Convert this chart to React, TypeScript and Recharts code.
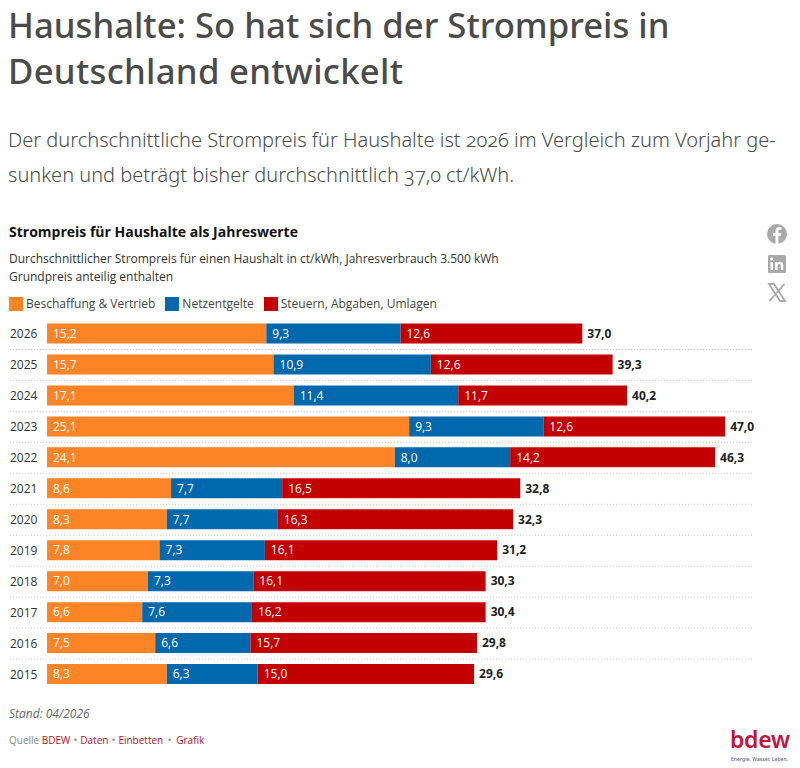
import { BarChart, Bar, XAxis, YAxis, LabelList, Legend } from 'recharts'

const years = ['2026', '2025', '2024', '2023', '2022', '2021', '2020', '2019', '2018', '2017', '2016', '2015']
const procurement = [15.2, 15.7, 17.1, 25.1, 24.1, 8.6, 8.3, 7.8, 7.0, 6.6, 7.5, 8.3]
const gridFees = [9.3, 10.9, 11.4, 9.3, 8.0, 7.7, 7.7, 7.3, 7.3, 7.6, 6.6, 6.3]
const taxes = [12.6, 12.6, 11.7, 12.6, 14.2, 16.5, 16.3, 16.1, 16.1, 16.2, 15.7, 15.0]
const totals = [37.0, 39.3, 40.2, 47.0, 46.3, 32.8, 32.3, 31.2, 30.3, 30.4, 29.8, 29.6]

const data = years.map((year, i) => ({
  year,
  procurement: procurement[i],
  gridFees: gridFees[i],
  taxes: taxes[i],
  total: totals[i],
}))

const ORANGE = '#ff8426'
const BLUE = '#0068ad'
const RED = '#c30000'
const CHART_FONT = '"Open Sans", sans-serif'
const HEAD_FONT = '"Noto Sans", sans-serif'

const comma = (v: number) => v.toFixed(1).replace('.', ',')

function YearTick({ y, payload, index }: any) {
  return (
    <g>
      <text x={10} y={y} dy={4.5} fontSize={12} fill="#333" fontFamily={CHART_FONT}>
        {payload.value}
      </text>
      {index < years.length - 1 && (
        <line x1={10} x2={754} y1={y + 15.5} y2={y + 15.5} stroke="#ccc" strokeDasharray="1 2" />
      )}
    </g>
  )
}

function LegendRow({ payload }: any) {
  return (
    <div style={{ display: 'flex', fontFamily: CHART_FONT, fontSize: 12, color: '#444' }}>
      {payload.map((p: any) => (
        <div key={p.value} style={{ display: 'flex', alignItems: 'center', marginRight: 10 }}>
          <span style={{ width: 14, height: 14, background: p.color, marginRight: 3 }} />
          {p.value}
        </div>
      ))}
    </div>
  )
}

const abs = (left: number, top: number, style: object = {}) => ({
  position: 'absolute' as const,
  left,
  top,
  whiteSpace: 'nowrap' as const,
  ...style,
})

const links = { color: '#b5121b' }

export default function App() {
  const whiteLabel = { fill: '#fff', fontSize: 12, fontFamily: CHART_FONT }
  return (
    <div style={{ position: 'relative', width: 800, height: 768, margin: '-8px 0 0 -8px', overflow: 'hidden', background: '#fff' }}>
      <div style={abs(8, 2, { fontFamily: HEAD_FONT, fontWeight: 500, fontSize: 34.7, lineHeight: '46px', color: '#4b4b4b' })}>
        Haushalte: So hat sich der Strompreis in
        <br />
        <span style={{ letterSpacing: 0.3 }}>Deutschland entwickelt</span>
      </div>
      <div style={abs(8, 122, { fontFamily: HEAD_FONT, fontWeight: 300, fontSize: 20, lineHeight: '35px', color: '#4b4b4b', fontVariantNumeric: 'oldstyle-nums' })}>
        Der durchschnittliche Strompreis für Haushalte ist 2026 im Vergleich zum Vorjahr ge-
        <br />
        sunken und beträgt bisher durchschnittlich 37,0 ct/kWh.
      </div>
      <div style={abs(9, 222, { fontFamily: CHART_FONT, fontWeight: 700, fontSize: 14, color: '#111' })}>
        Strompreis für Haushalte als Jahreswerte
      </div>

      <BarChart
        width={800}
        height={768}
        data={data}
        layout="vertical"
        barSize={20}
        margin={{ top: 318.5, right: 46, bottom: 61, left: 9 }}
        style={{ position: 'absolute', left: 0, top: 0 }}
      >
        <XAxis type="number" domain={[0, 49]} hide />
        <YAxis type="category" dataKey="year" width={38} axisLine={false} tickLine={false} tick={<YearTick />} interval={0} />
        <Legend
          content={<LegendRow />}
          wrapperStyle={{ position: 'absolute', left: 9, top: 295, width: 600, bottom: 'auto' }}
        />
        <Bar dataKey="procurement" name="Beschaffung & Vertrieb" stackId="a" fill={ORANGE} isAnimationActive={false}>
          <LabelList dataKey="procurement" position="insideLeft" offset={6} formatter={comma} style={whiteLabel} />
        </Bar>
        <Bar dataKey="gridFees" name="Netzentgelte" stackId="a" fill={BLUE} isAnimationActive={false}>
          <LabelList dataKey="gridFees" position="insideLeft" offset={6} formatter={comma} style={whiteLabel} />
        </Bar>
        <Bar dataKey="taxes" name="Steuern, Abgaben, Umlagen" stackId="a" fill={RED} isAnimationActive={false}>
          <LabelList dataKey="taxes" position="insideLeft" offset={6} formatter={comma} style={whiteLabel} />
          <LabelList
            dataKey="total"
            position="right"
            offset={5}
            formatter={comma}
            style={{ fill: '#222', fontSize: 12, fontWeight: 700, fontFamily: CHART_FONT }}
          />
        </Bar>
      </BarChart>

      <div style={abs(9, 250, { fontFamily: CHART_FONT, fontSize: 12, lineHeight: '17.5px', color: '#333' })}>
        Durchschnittlicher Strompreis für einen Haushalt in ct/kWh, Jahresverbrauch 3.500 kWh
        <br />
        Grundpreis anteilig enthalten
      </div>
      <div style={abs(9, 705, { fontFamily: CHART_FONT, fontSize: 12, fontStyle: 'italic', color: '#666' })}>Stand: 04/2026</div>
      <div style={abs(9, 733, { fontFamily: CHART_FONT, fontSize: 10, color: '#888' })}>
        Quelle <span style={links}>BDEW</span> <span style={{ margin: '0 0.5px' }}>•</span> <span style={links}>Daten</span>{' '}
        <span style={{ margin: '0 0.5px' }}>•</span> <span style={links}>Einbetten</span>{' '}
        <span style={{ margin: '0 2px' }}>•</span> <span style={links}>Grafik</span>
      </div>

      <svg width={24} height={90} style={abs(765, 222)} viewBox="0 0 24 90">
        <circle cx={12} cy={12} r={10} fill="#a9a9a9" />
        <path d="M13.4 22v-8h2.6l.4-3h-3V9.2c0-.9.3-1.4 1.5-1.4h1.6V5.2c-.8-.1-1.5-.2-2.2-.2-2.3 0-3.8 1.4-3.8 3.9V11H8v3h2.5v8z" fill="#fff" />
        <rect x={3} y={33} width={18} height={18} rx={1.5} fill="#a9a9a9" />
        <rect x={5.5} y={40} width={2.5} height={8} fill="#fff" />
        <circle cx={6.7} cy={37} r={1.5} fill="#fff" />
        <path d="M10 40h2.4v1.2c.6-.9 1.5-1.4 2.7-1.4 2.2 0 3.2 1.4 3.2 3.7V48h-2.5v-4c0-1.2-.4-2-1.4-2s-1.9.8-1.9 2.1V48H10z" fill="#fff" />
        <path d="M4 62h5l11 17h-5zM19.5 62 4.500 79" fill="none" stroke="#a9a9a9" strokeWidth={1.8} />
      </svg>

      <div style={abs(730, 726, { fontFamily: HEAD_FONT, fontSize: 23, lineHeight: '26px', fontWeight: 600, color: '#c2143d', letterSpacing: -0.3 })}>bdew</div>
      <div style={abs(731, 755, { fontFamily: HEAD_FONT, fontSize: 5.1, lineHeight: '8px', fontWeight: 500, color: '#667' })}>
        Energie. Wasser. Leben.
      </div>
    </div>
  )
}
